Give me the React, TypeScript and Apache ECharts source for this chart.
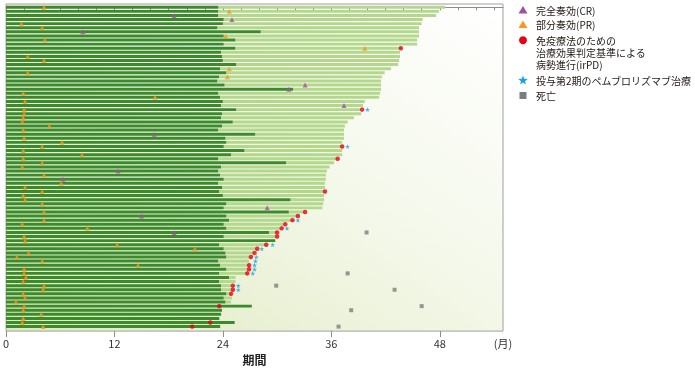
import { useEffect, useRef } from "react";
import * as echarts from "echarts";

// Months at which the first course of treatment ended (dark green), one per patient, top to bottom
const treatmentEnd = [
  23.5, 23.5, 23.5, 24.1, 24.0, 23.4, 28.2, 24.1, 25.4, 24.1,
  25.4, 23.8, 23.9, 24.0, 25.5, 23.7, 24.4, 23.6, 23.4, 24.2,
  31.8, 23.5, 23.7, 24.0, 23.8, 25.5, 23.9, 23.8, 25.1, 23.9,
  23.5, 27.6, 24.3, 24.4, 24.1, 26.4, 24.9, 23.5, 31.0, 23.8,
  23.5, 23.7, 24.1, 23.5, 23.9, 23.6, 24.0, 31.5, 24.4, 24.1,
  31.3, 24.4, 24.7, 24.1, 24.4, 29.1, 24.1, 29.8, 23.6, 24.1,
  24.3, 24.4, 23.5, 23.7, 24.4, 23.6, 24.7, 23.6, 23.8, 23.8,
  24.4, 24.1, 24.3, 27.2, 23.9, 23.8, 23.6, 25.3, 23.7,
];
// Months at which follow-up ended (light green); null = no follow-up segment
const followUpEnd = [
  48.6, 47.9, 47.6, 46.1, 46.0, 45.7, 45.7, 45.7, 45.5, 45.5,
  43.7, 43.6, 43.6, 43.5, 43.4, 42.6, 41.9, 41.6, 41.5, 41.5,
  41.5, 41.4, 41.3, 39.7, 39.5, 39.2, 39.3, 38.5, 37.8, 37.5,
  37.4, 37.4, 37.4, 37.2, 37.1, 37.2, 37.2, 36.6, 36.3, 35.8,
  35.5, 35.4, 35.4, 35.3, 35.3, 35.2, 35.2, 35.2, 35.1, 35.0,
  33.0, 32.2, 31.6, 30.7, 30.3, 30.0, 29.9, null, 28.8, 27.7,
  27.4, 27.0, 26.9, 26.9, 26.8, 26.7, 25.4, 25.4, 25.0, 25.0,
  24.9, 25.0, 24.9, null, null, null, null, null, null,
];
// [month, patient row]
const crPoints = [
  [18.6, 2], [25.0, 3], [8.5, 6], [33.1, 19], [31.3, 20], [37.4, 24],
  [16.4, 31], [12.4, 40], [6.3, 42], [28.9, 49], [15.0, 51], [18.6, 55],
];
const prPoints = [
  [4.2, 0], [24.7, 1], [1.7, 4], [4.0, 5], [24.3, 7], [4.3, 8], [39.7, 10],
  [2.4, 12], [4.2, 13], [24.7, 15], [2.4, 16], [24.5, 17], [1.9, 21], [16.5, 22],
  [2.1, 23], [2.0, 25], [2.0, 26], [1.9, 27], [1.8, 28], [4.8, 29],
  [1.9, 30], [2.0, 32], [6.2, 33], [4.0, 34], [1.9, 35], [8.4, 36], [1.9, 37],
  [4.0, 38], [1.8, 39], [4.2, 41], [6.1, 43], [2.1, 44], [4.0, 45], [1.9, 46],
  [2.1, 47], [4.0, 48], [4.2, 50], [4.2, 52], [1.8, 53], [9.0, 54], [2.0, 56],
  [2.1, 57], [12.3, 58], [20.9, 59], [2.5, 60], [1.2, 61], [4.0, 62], [14.6, 63],
  [2.0, 64], [2.0, 65], [2.2, 66], [1.9, 67], [4.2, 68], [4.1, 69], [1.9, 70],
  [2.1, 71], [1.1, 72], [2.0, 73], [1.9, 74], [3.9, 75], [1.9, 76], [1.8, 77],
  [4.1, 78],
];
const irpdPoints = [
  [43.7, 10], [39.4, 25], [37.2, 34], [36.7, 37], [35.3, 45], [33.1, 50],
  [32.3, 51], [31.7, 52], [30.9, 53], [30.5, 54], [30.0, 55], [30.0, 56],
  [28.8, 58], [27.8, 59], [27.5, 60], [27.1, 61], [26.9, 63], [26.9, 64],
  [26.7, 65], [25.1, 68], [25.1, 69], [24.9, 70], [23.6, 73], [22.6, 77],
  [20.6, 78],
];
const secondCoursePoints = [
  [40.0, 25], [37.8, 34], [32.3, 52], [31.1, 54], [29.5, 58], [28.3, 59],
  [27.7, 61], [27.6, 62], [27.5, 63], [27.5, 64], [27.3, 65], [25.7, 68],
  [25.7, 69],
];
const deathPoints = [
  [39.9, 55], [37.8, 65], [29.9, 68], [43.0, 69], [46.0, 73], [38.2, 74],
  [36.8, 78],
];
const majorTicks = [0, 12, 24, 36, 48];
const minorTicks = [0, 2, 4, 6, 8, 10, 12, 14, 16, 18, 20, 22, 24, 26, 28, 30, 32, 34, 36, 38, 40, 42, 44, 46, 48, 50, 52, 54];
const unitLabel = "(月)";
const axisName = "期間";
const legendLabels = [
  "完全奏効(CR)",
  "部分奏効(PR)",
  "免疫療法のための 治療効果判定基準による 病勢進行(irPD)",
  "投与第2期のペムブロリズマブ治療",
  "死亡",
];
const irpdLegendLines = ["免疫療法のための", "治療効果判定基準による", "病勢進行(irPD)"];

const DARK = "#3b8a2c";
const LIGHT = "#b3d78b";
const PURPLE = "#a24fa0";
const ORANGE = "#f39a1f";
const RED = "#e60012";
const BLUE = "#1ea0e6";
const GREY = "#7d7d80";
const STAR = "path://M50,0 L61,35 L98,35 L68,57 L79,91 L50,70 L21,91 L32,57 L2,35 L39,35 Z";
const FONT = "'Noto Sans CJK JP', 'Noto Sans', sans-serif";

export default function App() {
  const ref = useRef<HTMLDivElement>(null);
  useEffect(() => {
    const chart = echarts.init(ref.current!, null, { renderer: "svg" });
    const rows = treatmentEnd.map((t, i) => [i, t, followUpEnd[i] == null ? t : followUpEnd[i]]);
    const lx = 523;
    const tx = 536;
    const legendY = [10, 24.5, 40.3, 80, 95.5];
    const irpdLineY = [40.3, 52.2, 64.0];
    const textStyle = (text: string) => ({
      text,
      fontSize: 10,
      lineHeight: 11,
      fill: "#231815",
      fontFamily: FONT,
      verticalAlign: "middle",
    });
    const option: any = {
      animation: false,
      textStyle: { fontFamily: FONT },
      grid: {
        left: 6,
        right: 192,
        top: 4,
        bottom: 38.5,
        show: true,
        borderColor: "#a0a0a0",
        borderWidth: 1,
        backgroundColor: new echarts.graphic.LinearGradient(1, 0, 0, 1, [
          { offset: 0, color: "#ffffff" },
          { offset: 0.45, color: "#f4f8ea" },
          { offset: 1, color: "#dfeabf" },
        ]),
      },
      xAxis: [
        {
          type: "value",
          min: 0,
          max: 55,
          interval: 2,
          splitLine: { show: false },
          axisLine: { show: true, lineStyle: { color: "#8c8c8c", width: 1 } },
          axisTick: { show: true, customValues: minorTicks, length: 3, lineStyle: { color: "#8c8c8c" } },
          axisLabel: {
            customValues: [...majorTicks, 55],
            formatter: (v: number) => (v === 55 ? unitLabel : String(v)),
            margin: 6,
            fontSize: 11,
            color: "#333",
            fontFamily: FONT,
          },
          name: axisName,
          nameLocation: "middle",
          nameGap: 21,
          nameTextStyle: { fontSize: 12, fontWeight: "bold", color: "#222", fontFamily: FONT },
        },
        {
          type: "value",
          min: 0,
          max: 55,
          position: "bottom",
          splitLine: { show: false },
          axisLine: { show: false },
          axisTick: { show: true, customValues: majorTicks, length: 6, lineStyle: { color: "#8c8c8c" } },
          axisLabel: { show: false },
        },
      ],
      yAxis: {
        type: "value",
        inverse: true,
        min: -0.8,
        max: 79.1,
        show: false,
      },
      series: [
        {
          type: "custom",
          data: rows,
          encode: { x: [1, 2], y: 0 },
          renderItem: (params: any, api: any) => {
            const row = api.value(0);
            const s = api.coord([0, row]);
            const e1 = api.coord([api.value(1), row]);
            const e2 = api.coord([api.value(2), row]);
            const h = api.size([0, 1])[1] * 0.72;
            const children: any[] = [
              { type: "rect", shape: { x: s[0], y: s[1] - h / 2, width: e1[0] - s[0], height: h }, style: { fill: DARK } },
            ];
            if (e2[0] > e1[0]) {
              children.push({ type: "rect", shape: { x: e1[0], y: s[1] - h / 2, width: e2[0] - e1[0], height: h }, style: { fill: LIGHT } });
            }
            return { type: "group", children };
          },
          z: 2,
        },
        { type: "scatter", name: legendLabels[0], data: crPoints, symbol: "triangle", symbolSize: [5, 5], itemStyle: { color: PURPLE }, z: 5 },
        { type: "scatter", name: legendLabels[1], data: prPoints, symbol: "triangle", symbolSize: [5, 5], itemStyle: { color: ORANGE }, z: 5 },
        { type: "scatter", name: legendLabels[2], data: irpdPoints, symbol: "circle", symbolSize: 4.5, itemStyle: { color: RED }, z: 5 },
        { type: "scatter", name: legendLabels[3], data: secondCoursePoints, symbol: STAR, symbolSize: 5, itemStyle: { color: BLUE }, z: 5 },
        { type: "scatter", name: legendLabels[4], data: deathPoints, symbol: "rect", symbolSize: 4, itemStyle: { color: GREY }, z: 5 },
      ],
      graphic: [
        { type: "polygon", shape: { points: [[lx, legendY[0] - 4], [lx + 4.5, legendY[0] + 3.5], [lx - 4.5, legendY[0] + 3.5]] }, style: { fill: PURPLE } },
        { type: "polygon", shape: { points: [[lx, legendY[1] - 4], [lx + 4.5, legendY[1] + 3.5], [lx - 4.5, legendY[1] + 3.5]] }, style: { fill: ORANGE } },
        { type: "circle", shape: { cx: lx, cy: legendY[2], r: 4 }, style: { fill: RED } },
        {
          type: "polygon",
          shape: {
            points: [0, 1, 2, 3, 4, 5, 6, 7, 8, 9].map((k) => {
              const r = k % 2 === 0 ? 5 : 2.1;
              const a = -Math.PI / 2 + (k * Math.PI) / 5;
              return [lx + r * Math.cos(a), legendY[3] + 0.5 + r * Math.sin(a)];
            }),
          },
          style: { fill: BLUE },
        },
        { type: "rect", shape: { x: lx - 3.5, y: legendY[4] - 3.5, width: 7, height: 7 }, style: { fill: GREY } },
        { type: "text", x: tx, y: legendY[0], style: textStyle(legendLabels[0]) },
        { type: "text", x: tx, y: legendY[1], style: textStyle(legendLabels[1]) },
        ...irpdLegendLines.map((line, i) => ({ type: "text", x: tx, y: irpdLineY[i], style: textStyle(line) })),
        { type: "text", x: tx, y: legendY[3], style: textStyle(legendLabels[3]) },
        { type: "text", x: tx, y: legendY[4], style: textStyle(legendLabels[4]) },
      ],
    };
    chart.setOption(option);
    return () => chart.dispose();
  }, []);
  return <div ref={ref} style={{ position: "fixed", left: 0, top: 0, width: 695, height: 370 }} />;
}
